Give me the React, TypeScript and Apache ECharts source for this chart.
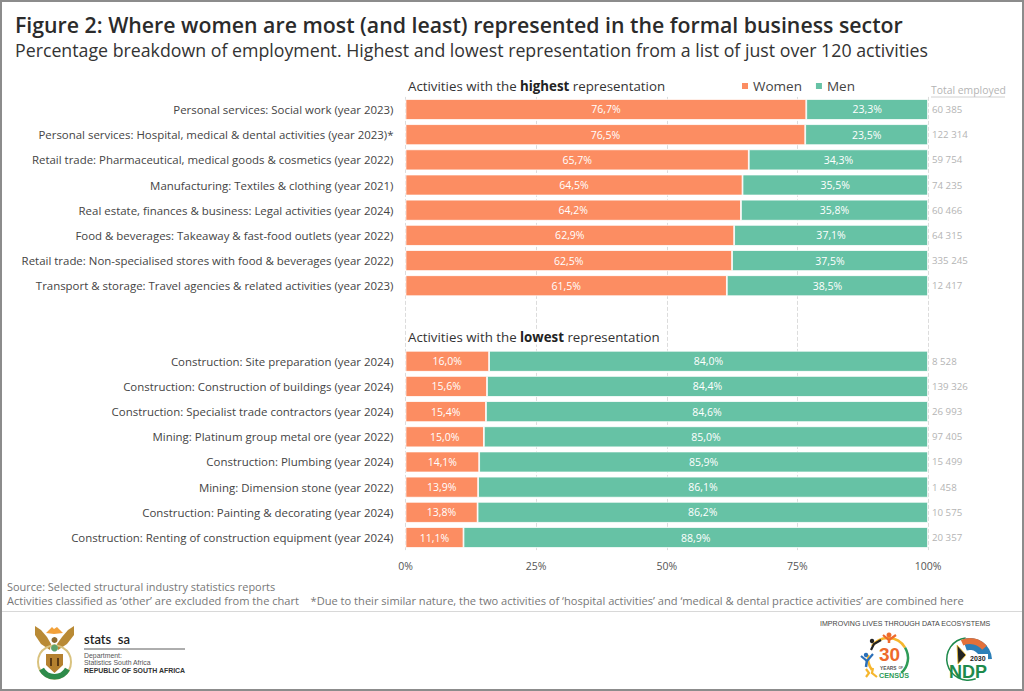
import React, { useEffect, useRef } from "react";
import * as echarts from "echarts";

const categories = [
  "Personal services: Social work (year 2023)",
  "Personal services: Hospital, medical & dental activities (year 2023)*",
  "Retail trade: Pharmaceutical, medical goods & cosmetics (year 2022)",
  "Manufacturing: Textiles & clothing (year 2021)",
  "Real estate, finances & business: Legal activities (year 2024)",
  "Food & beverages: Takeaway & fast-food outlets (year 2022)",
  "Retail trade: Non-specialised stores with food & beverages (year 2022)",
  "Transport & storage: Travel agencies & related activities (year 2023)",
  "",
  "",
  "Construction: Site preparation (year 2024)",
  "Construction: Construction of buildings (year 2024)",
  "Construction: Specialist trade contractors (year 2024)",
  "Mining: Platinum group metal ore (year 2022)",
  "Construction: Plumbing (year 2024)",
  "Mining: Dimension stone (year 2022)",
  "Construction: Painting & decorating (year 2024)",
  "Construction: Renting of construction equipment (year 2024)",
];
const women = [76.7, 76.5, 65.7, 64.5, 64.2, 62.9, 62.5, 61.5, null, null, 16.0, 15.6, 15.4, 15.0, 14.1, 13.9, 13.8, 11.1];
const men = [23.3, 23.5, 34.3, 35.5, 35.8, 37.1, 37.5, 38.5, null, null, 84.0, 84.4, 84.6, 85.0, 85.9, 86.1, 86.2, 88.9];
const totals = ["60 385", "122 314", "59 754", "74 235", "60 466", "64 315", "335 245", "12 417", "", "", "8 528", "139 326", "26 993", "97 405", "15 499", "1 458", "10 575", "20 357"];

const TITLE = "Figure 2: Where women are most (and least) represented in the formal business sector";
const SUBTITLE = "Percentage breakdown of employment. Highest and lowest representation from a list of just over 120 activities";
const SOURCE = "Source: Selected structural industry statistics reports";
const NOTE = "Activities classified as ‘other’ are excluded from the chart    *Due to their similar nature, the two activities of ‘hospital activities’ and ‘medical & dental practice activities’ are combined here";

const FONT = "'Open Sans', 'Noto Sans', sans-serif";
const ARIAL = "'Liberation Sans', Arial, sans-serif";
const ORANGE = "#FC8D62";
const GREEN = "#66C2A5";

const label = { show: true, position: "inside" as const, color: "#fff", fontSize: 10.5, fontFamily: FONT, formatter: (p: any) => p.value.toFixed(1).replace(".", ",") + "%" };

function heading(x: number, y: number, strong: string) {
  return {
    type: "text", x, y, z: 20,
    style: {
      text: `Activities with the {b|${strong}} representation`,
      font: `13.3px ${FONT}`, fill: "#333", backgroundColor: "#fff", padding: [1, 2, 1, 2],
      rich: { b: { fontWeight: 700, fontSize: 13.3, fontFamily: FONT, fill: "#222", backgroundColor: "#fff" } },
    },
  };
}
const txt = (x: number, y: number, text: string, font: string, fill: string, extra: any = {}) => ({ type: "text", x, y, z: 20, style: { text, font, fill, ...extra } });

const crest = [
  { type: "polygon", shape: { points: [[50, 650], [41, 644], [35, 635], [35, 626], [41, 630], [47, 637], [51, 644]] }, style: { fill: "#B98A35" } },
  { type: "polygon", shape: { points: [[58, 650], [67, 644], [74, 635], [74, 626], [68, 630], [62, 637], [57, 644]] }, style: { fill: "#B98A35" } },
  { type: "polygon", shape: { points: [[46, 633], [49, 630], [52, 627], [54, 629], [57, 627], [60, 630], [63, 633], [54, 634]] }, style: { fill: "#F2A13A" } },
  { type: "circle", shape: { cx: 54.5, cy: 640, r: 3 }, style: { fill: "#8E6A2E" } },
  { type: "circle", shape: { cx: 54.5, cy: 662, r: 16.5 }, style: { fill: "none", stroke: "#D9C27E", lineWidth: 2 } },
  { type: "sector", shape: { cx: 54.5, cy: 662, r: 17.5, r0: 12, startAngle: 0.5, endAngle: 2.64 }, style: { fill: "#2E8B4A" } },
  { type: "circle", shape: { cx: 54.5, cy: 648, r: 3.5 }, style: { fill: "#5FA36B" } },
  { type: "polygon", shape: { points: [[46, 654], [63, 654], [63, 665], [54.5, 673], [46, 665]] }, style: { fill: "#B5812F" } },
  { type: "rect", shape: { x: 50, y: 658, width: 2, height: 8 }, style: { fill: "#5A3A14" } },
  { type: "rect", shape: { x: 57, y: 658, width: 2, height: 8 }, style: { fill: "#5A3A14" } },
];

const census = [
  { type: "arc", shape: { cx: 888, cy: 658, r: 20, startAngle: -2.5, endAngle: -0.55 }, style: { stroke: "#F6B62D", lineWidth: 2.5, fill: "none" } },
  { type: "arc", shape: { cx: 888, cy: 658, r: 20, startAngle: -0.55, endAngle: 0.85 }, style: { stroke: "#2E9B57", lineWidth: 2.5, fill: "none" } },
  { type: "arc", shape: { cx: 888, cy: 658, r: 20, startAngle: 2.5, endAngle: 3.3 }, style: { stroke: "#F6B62D", lineWidth: 2.5, fill: "none" } },
  { type: "circle", shape: { cx: 889, cy: 635, r: 2.5 }, style: { fill: "#EE6A2C" } },
  { type: "polyline", shape: { points: [[883, 635], [889, 640], [896, 635]] }, style: { stroke: "#EE6A2C", lineWidth: 2.2, fill: "none" } },
  { type: "line", shape: { x1: 889, y1: 639, x2: 889, y2: 643 }, style: { stroke: "#EE6A2C", lineWidth: 2.5 } },
  { type: "circle", shape: { cx: 872, cy: 641, r: 2.2 }, style: { fill: "#222" } },
  { type: "polyline", shape: { points: [[881, 640], [874, 644], [871, 650]] }, style: { stroke: "#222", lineWidth: 2.2, fill: "none" } },
  { type: "circle", shape: { cx: 866, cy: 655, r: 2.2 }, style: { fill: "#2A6FB8" } },
  { type: "polyline", shape: { points: [[861, 656], [867, 661], [873, 654]] }, style: { stroke: "#2A6FB8", lineWidth: 2.2, fill: "none" } },
  { type: "line", shape: { x1: 867, y1: 660, x2: 866, y2: 667 }, style: { stroke: "#2A6FB8", lineWidth: 2.5 } },
  { type: "polyline", shape: { points: [[866, 669], [869, 673], [866, 677]] }, style: { stroke: "#F6B62D", lineWidth: 2.2, fill: "none" } },
  { type: "polyline", shape: { points: [[873, 668], [872, 673], [877, 677]] }, style: { stroke: "#F6B62D", lineWidth: 2.2, fill: "none" } },
  txt(879, 645, "30", `700 19px ${ARIAL}`, "#EE6A2C"),
  txt(880, 665.5, "YEARS", `700 4.8px ${ARIAL}`, "#555"),
  txt(898.5, 666, "OF", `700 3.2px ${ARIAL}`, "#555"),
  txt(879, 671.5, "CENSUS", `700 7.2px ${ARIAL}`, "#2E9B57"),
];

const ndp = [
  { type: "sector", shape: { cx: 968, cy: 659, r: 22, r0: 20.5, startAngle: 1.2, endAngle: 4.6 }, style: { fill: "#1E8A4C" } },
  { type: "sector", shape: { cx: 970, cy: 660, r: 22, r0: 10, startAngle: -1.9, endAngle: -0.05 }, style: { fill: "#2C7FB8" } },
  { type: "sector", shape: { cx: 970, cy: 660, r: 22, r0: 16, startAngle: -2.0, endAngle: -0.7 }, style: { fill: "#E2703A" } },
  { type: "polygon", shape: { points: [[957, 645], [966, 655], [958, 664]] }, style: { fill: "#222", stroke: "#F4C430", lineWidth: 0.8 } },
  { type: "rect", shape: { x: 968, y: 654, width: 20, height: 8 }, style: { fill: "#fff" } },
  txt(970, 654.5, "2030", `700 7px ${ARIAL}`, "#222"),
  txt(949, 662.5, "NDP", `900 18px ${ARIAL}`, "#1E8A4C"),
];

export default function App() {
  const ref = useRef<HTMLDivElement>(null);
  useEffect(() => {
    const chart = echarts.init(ref.current!, undefined, { renderer: "svg" });
    chart.setOption({
      animation: false,
      backgroundColor: "#fff",
      textStyle: { fontFamily: FONT },
      legend: {
        left: 740, top: 79, padding: 0, itemWidth: 8, itemHeight: 8, itemGap: 12, icon: "rect", z: 30,
        data: ["Women", "Men"],
        textStyle: { fontSize: 13.5, color: "#444", fontFamily: FONT, padding: [0, 0, 0, -1] },
      },
      grid: { left: 405.5, width: 522.5, top: 96.9, height: 453.2 },
      xAxis: {
        type: "value", min: 0, max: 100, interval: 25,
        axisLine: { show: false }, axisTick: { show: false },
        axisLabel: { formatter: "{value}%", color: "#555", fontSize: 10.5, margin: 10, fontFamily: FONT },
        splitLine: { show: true, lineStyle: { type: "dashed", color: "#dcdcdc", width: 1 } },
      },
      yAxis: [
        {
          type: "category", inverse: true, data: categories,
          axisLine: { show: false }, axisTick: { show: false },
          axisLabel: { interval: 0, color: "#444", fontSize: 11.45, margin: 12, padding: [0, 0, 3, 0], fontFamily: FONT },
        },
        {
          type: "category", inverse: true, position: "right", data: totals,
          axisLine: { show: false }, axisTick: { show: false },
          axisLabel: { interval: 0, color: "#b4b4b4", fontSize: 9.7, margin: 4, padding: [0, 0, 3, 0], fontFamily: FONT },
        },
      ],
      series: [
        { name: "Women", type: "bar", stack: "t", yAxisIndex: 0, data: women, barWidth: 21, itemStyle: { color: ORANGE, borderColor: "#fff", borderWidth: 0.8 }, label },
        { name: "Men", type: "bar", stack: "t", yAxisIndex: 0, data: men, barWidth: 21, itemStyle: { color: GREEN, borderColor: "#fff", borderWidth: 0.8 }, label },
      ],
      graphic: {
        elements: [
          { type: "rect", z: 25, shape: { x: 1, y: 1, width: 1022, height: 689 }, style: { fill: "none", stroke: "#8c8c8c", lineWidth: 2 } },
          txt(15, 14, TITLE, `600 21.3px ${FONT}`, "#2b2b2b"),
          txt(15, 41, SUBTITLE, `17.75px ${FONT}`, "#333"),
          heading(406, 78.5, "highest"),
          heading(406, 329.5, "lowest"),
          txt(931, 85, "Total employed", `10.4px ${FONT}`, "#b4b4b4"),
          { type: "line", z: 20, shape: { x1: 931, y1: 97, x2: 1005, y2: 97 }, style: { stroke: "#c4c4c4", lineWidth: 0.8 } },
          txt(7, 581, SOURCE, `10.95px ${FONT}`, "#777"),
          txt(7, 595, NOTE, `11.1px ${FONT}`, "#777"),
          { type: "line", z: 20, shape: { x1: 2, y1: 611.5, x2: 1022, y2: 611.5 }, style: { stroke: "#d8d8d8", lineWidth: 1 } },
          ...crest,
          txt(84, 632, "stats  sa", `600 13px Lato, sans-serif`, "#222"),
          { type: "line", z: 20, shape: { x1: 84, y1: 649, x2: 185, y2: 649 }, style: { stroke: "#333", lineWidth: 0.8 } },
          txt(84, 651.5, "Department:", `6.9px ${ARIAL}`, "#555"),
          txt(84, 659, "Statistics South Africa", `6.9px ${ARIAL}`, "#555"),
          txt(84, 666.5, "REPUBLIC OF SOUTH AFRICA", `700 6.95px ${ARIAL}`, "#333"),
          txt(820, 619.5, "IMPROVING LIVES THROUGH DATA ECOSYSTEMS", `7.07px ${ARIAL}`, "#444"),
          ...census,
          ...ndp,
        ],
      },
    });
    return () => chart.dispose();
  }, []);
  return <div ref={ref} style={{ position: "absolute", left: 0, top: 0, width: 1024, height: 691 }} />;
}
